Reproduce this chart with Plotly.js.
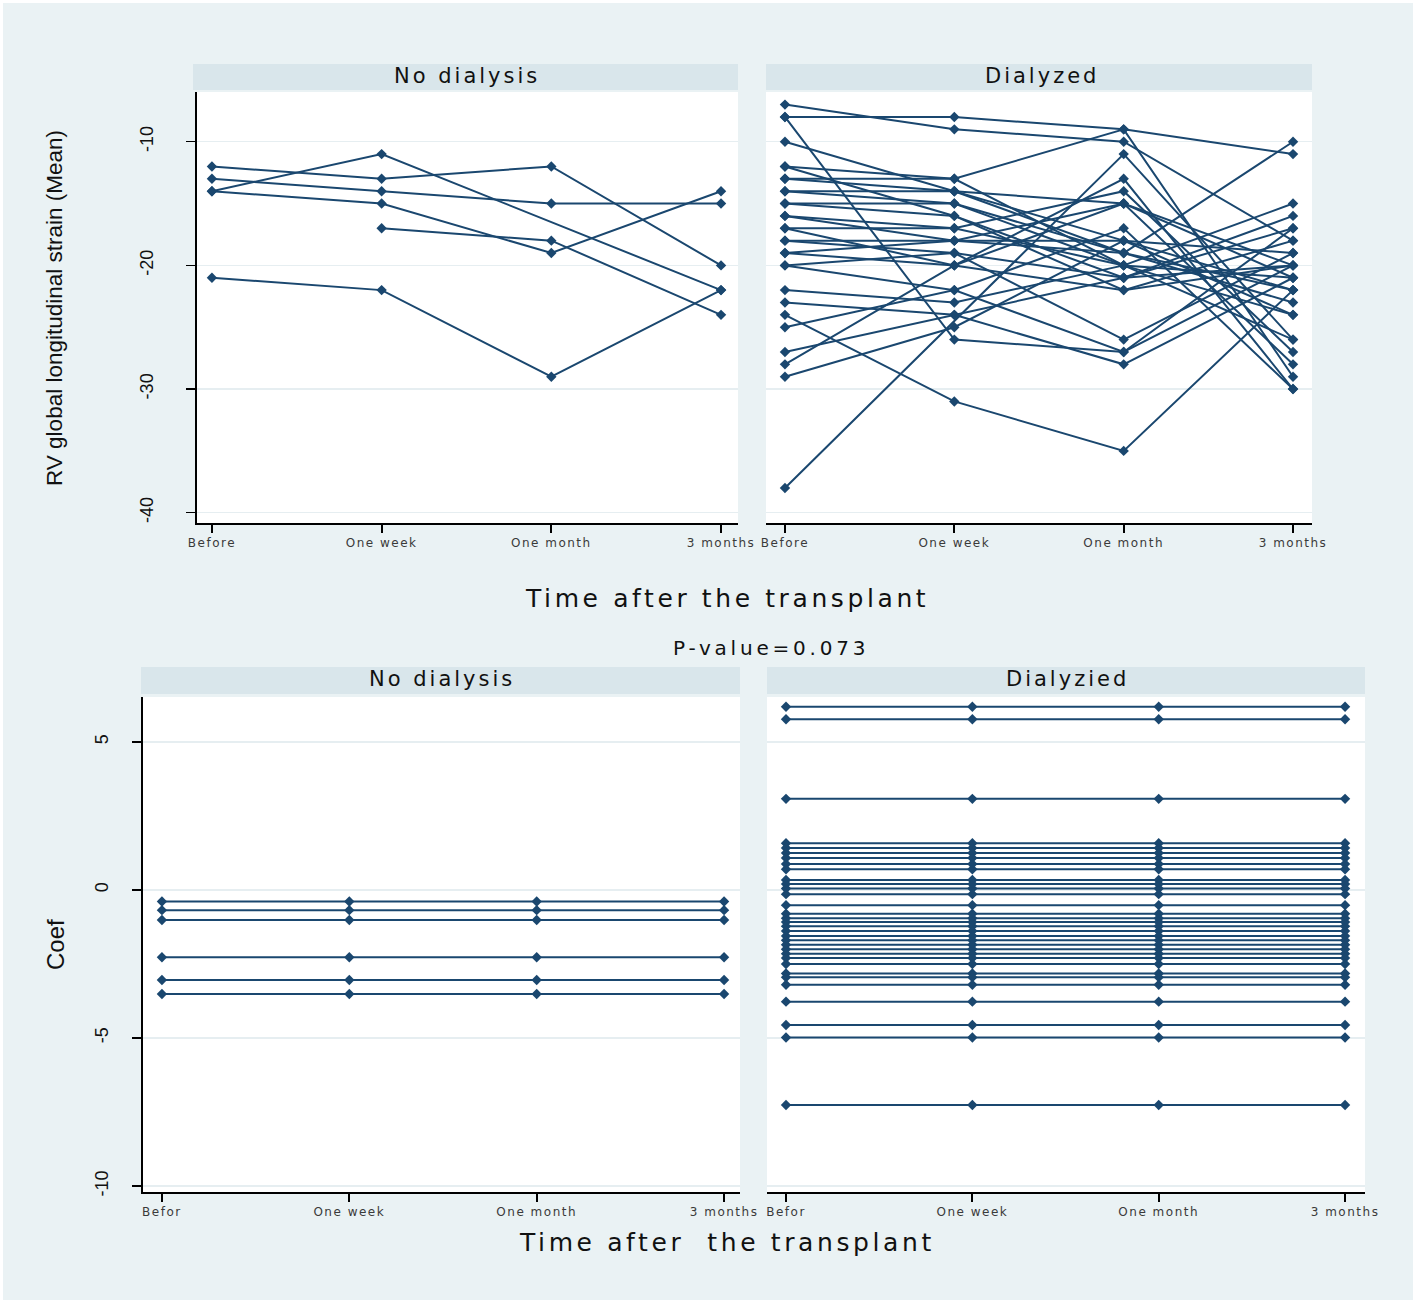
<!DOCTYPE html>
<html>
<head>
<meta charset="utf-8">
<script src="https://cdn.plot.ly/plotly-3.0.1.min.js"></script>
<style>
html,body{margin:0;padding:0;background:#ffffff;}
#chart{position:absolute;left:3px;top:3px;width:1410px;height:1297px;}
</style>
</head>
<body>
<div id="chart"></div>
<script>
// ---------- data ----------
const timePoints = [1, 2, 3, 4];
const topTimeLabels = ['Before', 'One week', 'One month', '3 months'];
const bottomTimeLabels = ['Befor', 'One week', 'One month', '3 months'];

// RV global longitudinal strain, No dialysis (one entry per patient)
const noDialysisBefore = [-12, -13, -14, -14, null, -21];
const noDialysisWeek   = [-13, -14, -11, -15, -17, -22];
const noDialysisMonth  = [-12, -15, null, -19, -18, -29];
const noDialysis3m     = [-20, -15, -22, -14, -24, -22];

// RV global longitudinal strain, Dialyzed (one entry per patient)
const dialyzedBefore = [-7, -8, -8, -10, -12, -13, -13, -14, -14, -15, -15, -16, -16, -17, -18, -18, -19, -19, -20, -20, -22, -23, -24, -25, -27, -28, -29, -38, -17, -12];
const dialyzedWeek   = [-9, -8, -26, -14, -16, -13, -14, -14, -15, -15, -16, -17, -18, -17, -18, -19, -18, -20, -22, -19, -23, -24, -31, -22, -24, -20, -25, null, -20, -13];
const dialyzedMonth  = [-10, -9, -27, -15, -22, -20, -19, -18, -20, -19, -21, -14, -18, -20, -15, -21, -19, -22, -17, -26, -20, -28, -35, -27, -21, -13, -18, -11, -15, -9];
const dialyzed3m     = [-18, -11, -17, -21, -20, -24, -10, -22, -26, -23, -20, -27, -19, -21, -28, -16, -22, -18, -30, -19, -15, -21, -22, -20, -17, -30, -24, -26, -20, -29];

// Coefficients
const noDialysisCoef = [-0.39, -0.68, -1.01, -2.27, -3.04, -3.51];
const dialyzedCoef = [6.19, 5.77, 3.08, 1.58, 1.42, 1.25, 1.08, 0.88, 0.70, 0.34, 0.20, 0.05, -0.14, -0.51, -0.80, -0.95, -1.08, -1.22, -1.38, -1.55, -1.70, -1.85, -2.00, -2.15, -2.30, -2.50, -2.82, -2.95, -3.20, -3.77, -4.56, -4.98, -7.26];

// ---------- helpers ----------
const NAVY = '#1a476f';
const W = 1410, H = 1297, OX = 3, OY = 3;
const px = v => (v - OX) / W;
const py = v => 1 - (v - OY) / H;

function strainTraces(cols, xa, ya) {
  const out = [];
  for (let i = 0; i < cols[0].length; i++) {
    out.push({
      type: 'scatter', mode: 'lines+markers',
      x: timePoints, y: cols.map(c => c[i]),
      xaxis: xa, yaxis: ya, connectgaps: true,
      line: {color: NAVY, width: 2},
      marker: {color: NAVY, size: 8, symbol: 'diamond'},
      hoverinfo: 'skip', showlegend: false
    });
  }
  return out;
}
function coefTraces(coefs, xa, ya) {
  return coefs.map(c => ({
    type: 'scatter', mode: 'lines+markers',
    x: timePoints, y: timePoints.map(() => c),
    xaxis: xa, yaxis: ya,
    line: {color: NAVY, width: 2},
    marker: {color: NAVY, size: 8, symbol: 'diamond'},
    hoverinfo: 'skip', showlegend: false
  }));
}

const data = [].concat(
  strainTraces([noDialysisBefore, noDialysisWeek, noDialysisMonth, noDialysis3m], 'x', 'y'),
  strainTraces([dialyzedBefore, dialyzedWeek, dialyzedMonth, dialyzed3m], 'x2', 'y2'),
  coefTraces(noDialysisCoef, 'x3', 'y3'),
  coefTraces(dialyzedCoef, 'x4', 'y4')
);

const sp = (t, ls) => '<span style="letter-spacing:' + ls + 'px">' + t + '</span>';
const tickFont = {family: 'DejaVu Sans, sans-serif', size: 12, color: '#3a3a3a'};
const yTickFont = {family: 'Liberation Sans, Arial, sans-serif', size: 18, color: '#111'};
const GRID = '#e6eef1';
const headFont = {family: 'DejaVu Sans, sans-serif', size: 21, color: '#111'};
const titleFont = {family: 'DejaVu Sans, sans-serif', size: 25, color: '#111'};

function xAxis(domain, range, labels, anchor) {
  return {
    domain: domain, range: range, anchor: anchor,
    tickvals: timePoints, ticktext: labels.map(l => sp(l, 1.5)),
    showline: true, linecolor: '#000', linewidth: 2,
    ticks: 'outside', ticklen: 8, tickwidth: 2, tickcolor: '#000',
    showgrid: false, zeroline: false, tickfont: tickFont, fixedrange: true
  };
}
function yAxis(domain, range, vals, anchor, show, standoff) {
  return {
    domain: domain, range: range, anchor: anchor,
    tickvals: vals, ticktext: vals.map(String),
    showline: show, linecolor: '#000', linewidth: 2,
    ticks: show ? 'outside' : '', ticklen: 9, tickwidth: 1.5, tickcolor: '#000',
    showticklabels: show, tickangle: -90, ticklabelstandoff: standoff,
    showgrid: true, gridcolor: GRID, gridwidth: 1.5, zeroline: false,
    tickfont: yTickFont, fixedrange: true
  };
}

const topY = [py(523), py(92)];
const botY = [py(1192), py(697)];

const layout = {
  width: W, height: H,
  margin: {l: 0, r: 0, t: 0, b: 0},
  paper_bgcolor: '#eaf2f4', plot_bgcolor: '#ffffff',
  showlegend: false,
  xaxis:  xAxis([px(197), px(738)], [0.912, 4.10], topTimeLabels, 'y'),
  yaxis:  yAxis(topY, [-40.83, -5.98], [-10, -20, -30, -40], 'x', true, 26),
  xaxis2: xAxis([px(766), px(1312)], [0.888, 4.112], topTimeLabels, 'y2'),
  yaxis2: yAxis(topY, [-40.83, -5.98], [-10, -20, -30, -40], 'x2', false, 0),
  xaxis3: xAxis([px(143), px(740)], [0.899, 4.085], bottomTimeLabels, 'y3'),
  yaxis3: yAxis(botY, [-10.2, 6.52], [5, 0, -5, -10], 'x3', true, 17),
  xaxis4: xAxis([px(767), px(1365)], [0.898, 4.107], bottomTimeLabels, 'y4'),
  yaxis4: yAxis(botY, [-10.2, 6.52], [5, 0, -5, -10], 'x4', false, 0),
  shapes: [
    {type: 'rect', xref: 'paper', yref: 'paper', x0: px(193), x1: px(738), y0: py(90), y1: py(64), fillcolor: '#d9e6eb', line: {width: 0}, layer: 'below'},
    {type: 'rect', xref: 'paper', yref: 'paper', x0: px(766), x1: px(1312), y0: py(90), y1: py(64), fillcolor: '#d9e6eb', line: {width: 0}, layer: 'below'},
    {type: 'rect', xref: 'paper', yref: 'paper', x0: px(141), x1: px(740), y0: py(694), y1: py(667), fillcolor: '#d9e6eb', line: {width: 0}, layer: 'below'},
    {type: 'rect', xref: 'paper', yref: 'paper', x0: px(767), x1: px(1365), y0: py(694), y1: py(667), fillcolor: '#d9e6eb', line: {width: 0}, layer: 'below'}
  ],
  annotations: [
    {text: sp('No dialysis', 3), x: px(467), y: py(76), xref: 'paper', yref: 'paper', showarrow: false, xanchor: 'center', yanchor: 'middle', font: headFont},
    {text: sp('Dialyzed', 3), x: px(1042), y: py(76), xref: 'paper', yref: 'paper', showarrow: false, xanchor: 'center', yanchor: 'middle', font: headFont},
    {text: sp('Time after the transplant', 3.6), x: px(727), y: py(598), xref: 'paper', yref: 'paper', showarrow: false, xanchor: 'center', yanchor: 'middle', font: titleFont},
    {text: sp('P-value=0.073', 3.8), x: px(771), y: py(648), xref: 'paper', yref: 'paper', showarrow: false, xanchor: 'center', yanchor: 'middle', font: {family: 'DejaVu Sans, sans-serif', size: 20, color: '#111'}},
    {text: sp('No dialysis', 3), x: px(442), y: py(679), xref: 'paper', yref: 'paper', showarrow: false, xanchor: 'center', yanchor: 'middle', font: headFont},
    {text: sp('Dialyzied', 3), x: px(1067), y: py(679), xref: 'paper', yref: 'paper', showarrow: false, xanchor: 'center', yanchor: 'middle', font: headFont},
    {text: sp('Time after\u00a0 the transplant', 3.6), x: px(727), y: py(1242), xref: 'paper', yref: 'paper', showarrow: false, xanchor: 'center', yanchor: 'middle', font: titleFont},
    {text: 'RV global longitudinal strain (Mean)', x: px(55), y: py(308), xref: 'paper', yref: 'paper', showarrow: false, textangle: -90, xanchor: 'center', yanchor: 'middle', font: {family: 'Liberation Sans, Arial, sans-serif', size: 22.5, color: '#111'}},
    {text: 'Coef', x: px(55), y: py(945), xref: 'paper', yref: 'paper', showarrow: false, textangle: -90, xanchor: 'center', yanchor: 'middle', font: {family: 'Liberation Sans, Arial, sans-serif', size: 24, color: '#111'}}
  ]
};

Plotly.newPlot('chart', data, layout, {staticPlot: true, displayModeBar: false});
</script>
</body>
</html>
